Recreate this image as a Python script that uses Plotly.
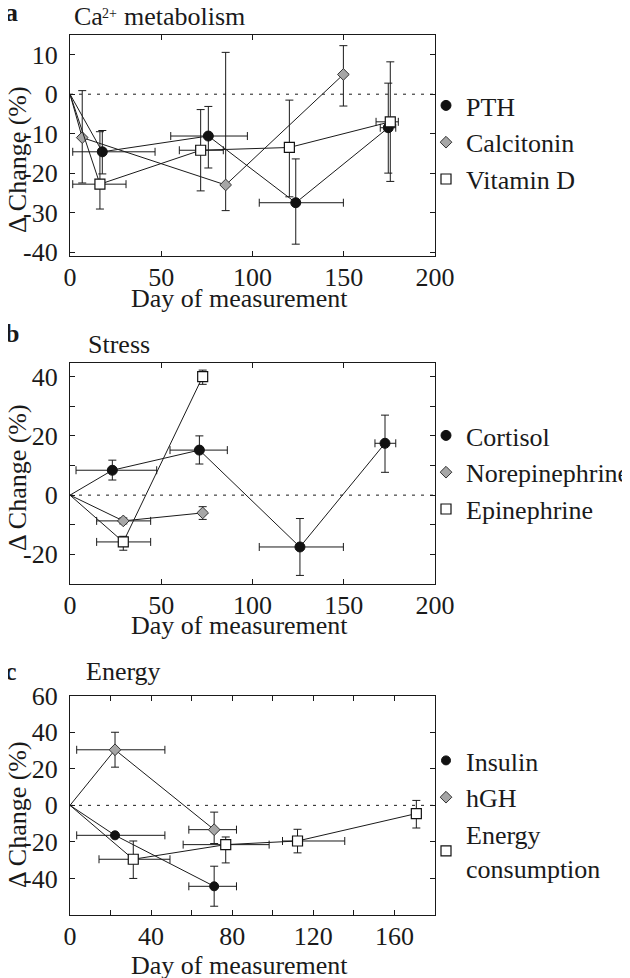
import plotly.graph_objects as go
from plotly.subplots import make_subplots

FONT = "Liberation Serif, Times New Roman, DejaVu Serif, serif"
INK = "#1a1a1a"

# ---------------- Panel a : Ca2+ metabolism ----------------
pth_x = [17.7, 75.8, 123.7, 174.4]
pth_y = [-14.6, -10.6, -27.5, -8.5]
pth_xlo = [1.5, 55.2, 103.7, 170.0]
pth_xhi = [46.6, 97.2, 149.8, 178.5]
pth_ylo = [-20.2, -18.7, -38.0, -20.0]
pth_yhi = [-9.2, -3.1, -16.4, 2.8]

calc_x = [6.7, 85.3, 149.8]
calc_y = [-11.0, -23.0, 5.0]
calc_xlo = [6.7, 85.3, 149.8]
calc_xhi = [6.7, 85.3, 149.8]
calc_ylo = [-22.5, -29.5, -3.0]
calc_yhi = [0.9, 10.6, 12.3]

vitd_x = [16.4, 71.6, 120.2, 175.5]
vitd_y = [-22.8, -14.2, -13.5, -7.0]
vitd_xlo = [1.5, 59.9, 120.2, 167.7]
vitd_xhi = [30.7, 84.0, 120.2, 179.9]
vitd_ylo = [-29.1, -24.5, -26.0, -22.1]
vitd_yhi = [-9.5, -3.9, -1.5, 8.2]

# ---------------- Panel b : Stress ----------------
cort_x = [23.2, 70.9, 126.0, 172.6]
cort_y = [8.4, 15.2, -17.5, 17.5]
cort_xlo = [3.3, 54.8, 103.7, 167.1]
cort_xhi = [47.5, 86.2, 149.8, 178.5]
cort_ylo = [5.1, 10.5, -27.1, 7.7]
cort_yhi = [11.8, 20.0, -7.9, 27.0]

nor_x = [29.2, 72.7]
nor_y = [-8.7, -6.0]
nor_xlo = [14.6, 72.7]
nor_xhi = [44.2, 72.7]
nor_ylo = [-9.7, -8.2]
nor_yhi = [-7.7, -3.9]

epi_x = [29.2, 72.7]
epi_y = [-15.8, 40.0]
epi_xlo = [14.6, 72.7]
epi_xhi = [44.2, 72.7]
epi_ylo = [-18.6, 37.4]
epi_yhi = [-13.9, 42.2]

# ---------------- Panel c : Energy ----------------
ins_x = [22.2, 71.1]
ins_y = [-16.4, -44.3]
ins_xlo = [3.3, 58.6]
ins_xhi = [46.8, 82.1]
ins_ylo = [-16.4, -55.2]
ins_yhi = [-16.4, -33.3]

hgh_x = [22.2, 71.1]
hgh_y = [30.4, -13.3]
hgh_xlo = [3.3, 58.6]
hgh_xhi = [46.8, 82.1]
hgh_ylo = [20.9, -20.9]
hgh_yhi = [40.0, -3.7]

en_x = [31.2, 76.8, 112.2, 170.8]
en_y = [-29.5, -21.5, -19.5, -4.5]
en_xlo = [14.3, 55.8, 104.8, 170.8]
en_xhi = [49.3, 98.2, 135.5, 170.8]
en_ylo = [-40.0, -31.5, -26.0, -12.4]
en_yhi = [-19.5, -17.3, -13.1, 2.7]

baseline_x = [0]
baseline_y = [0]

CIRCLE = dict(symbol="circle", size=10, color="#111111", line=dict(color="#111111", width=1))
DIAMOND = dict(symbol="diamond", size=9, color="#a6a6a6", line=dict(color="#333333", width=1))
SQUARE = dict(symbol="square", size=10, color="white", line=dict(color="#111111", width=1.2))

fig = make_subplots(rows=3, cols=1)


def add_series(row, name, legend, x, y, xlo, xhi, ylo, yhi, marker):
    fig.add_trace(go.Scatter(
        x=baseline_x + x, y=baseline_y + y, mode="lines",
        line=dict(color=INK, width=1), showlegend=False, hoverinfo="skip"),
        row=row, col=1)
    fig.add_trace(go.Scatter(
        x=x, y=y, mode="markers", name=name, legend=legend, legendgroup=name,
        marker=marker,
        error_x=dict(type="data", symmetric=False,
                     array=[h - v for h, v in zip(xhi, x)],
                     arrayminus=[v - l for l, v in zip(xlo, x)],
                     color=INK, thickness=1, width=4),
        error_y=dict(type="data", symmetric=False,
                     array=[h - v for h, v in zip(yhi, y)],
                     arrayminus=[v - l for l, v in zip(ylo, y)],
                     color=INK, thickness=1, width=4)),
        row=row, col=1)


add_series(1, "PTH", "legend", pth_x, pth_y, pth_xlo, pth_xhi, pth_ylo, pth_yhi, CIRCLE)
add_series(1, "Calcitonin", "legend", calc_x, calc_y, calc_xlo, calc_xhi, calc_ylo, calc_yhi, DIAMOND)
add_series(1, "Vitamin D", "legend", vitd_x, vitd_y, vitd_xlo, vitd_xhi, vitd_ylo, vitd_yhi, SQUARE)

add_series(2, "Cortisol", "legend2", cort_x, cort_y, cort_xlo, cort_xhi, cort_ylo, cort_yhi, CIRCLE)
add_series(2, "Norepinephrine", "legend2", nor_x, nor_y, nor_xlo, nor_xhi, nor_ylo, nor_yhi, DIAMOND)
add_series(2, "Epinephrine", "legend2", epi_x, epi_y, epi_xlo, epi_xhi, epi_ylo, epi_yhi, SQUARE)

add_series(3, "Insulin", "legend3", ins_x, ins_y, ins_xlo, ins_xhi, ins_ylo, ins_yhi, dict(CIRCLE, size=9))
add_series(3, "hGH", "legend3", hgh_x, hgh_y, hgh_xlo, hgh_xhi, hgh_ylo, hgh_yhi, DIAMOND)
add_series(3, "Energy<br>consumption", "legend3", en_x, en_y, en_xlo, en_xhi, en_ylo, en_yhi, SQUARE)

# zero reference lines
for r in (1, 2, 3):
    fig.add_hline(y=0, line=dict(color=INK, width=1, dash="3px,6px"), row=r, col=1)

# downward arrow at the lower end of the calcitonin error bar (day ~85)
fig.add_annotation(x=calc_x[1], y=calc_ylo[1], xref="x", yref="y", ax=0, ay=-12,
                   showarrow=True, arrowhead=2, arrowsize=1, arrowwidth=1,
                   arrowcolor=INK, text=" ")

# -------- layout / axes --------
# the page body has an 8px margin, so the figure sits 8px in from the corner;
# positions below are page pixels converted to paper fractions.
W, H = 622, 970
ML, MR, MT, MB = 62, 195, 27, 63
PH = H - MT - MB  # 880
PW = W - ML - MR  # 365
OFF = 8


def py(p):
    return (H - MB - (p - OFF)) / PH


def px(p):
    return (p - OFF - ML) / PW


domains = [(py(256), py(35)), (py(584), py(363.3)), (py(915), py(695.7))]

tick_font = dict(family=FONT, size=26, color=INK)
axis_common = dict(showline=True, linecolor=INK, linewidth=1.2, mirror="ticks",
                   ticks="inside", ticklen=5, tickcolor=INK, tickwidth=1,
                   showgrid=False, zeroline=False, tickfont=tick_font)

xa_ticks = [0, 50, 100, 150, 200]
ya_ticks = [-40, -30, -20, -10, 0, 10]
yb_ticks = [-20, -10, 0, 10, 20, 30, 40]
yb_text = ["-20", "", "0", "", "20", "", "40"]
xc_ticks = [0, 20, 40, 60, 80, 100, 120, 140, 160, 180]
xc_text = ["0", "", "40", "", "80", "", "120", "", "160", ""]
yc_ticks = [-60, -40, -20, 0, 20, 40, 60]
yc_text = ["", "-40", "-20", "0", "20", "40", "60"]

XSTAND = -2
YSTAND = 6

fig.update_layout(
    width=W, height=H,
    margin=dict(l=ML, r=MR, t=MT, b=MB, autoexpand=False),
    paper_bgcolor="white", plot_bgcolor="white",
    font=dict(family=FONT, size=26, color=INK),
    xaxis=dict(axis_common, domain=[0, 1], range=[0, 200], tickvals=xa_ticks,
               ticktext=[str(v) for v in xa_ticks], ticklabelstandoff=XSTAND),
    yaxis=dict(axis_common, domain=list(domains[0]), range=[-41, 15], tickvals=ya_ticks,
               ticktext=[str(v) for v in ya_ticks], ticklabelstandoff=YSTAND),
    xaxis2=dict(axis_common, domain=[0, 1], range=[0, 200], tickvals=xa_ticks,
                ticktext=[str(v) for v in xa_ticks], ticklabelstandoff=XSTAND),
    yaxis2=dict(axis_common, domain=list(domains[1]), range=[-30, 44.5], tickvals=yb_ticks,
                ticktext=yb_text, ticklabelstandoff=YSTAND),
    xaxis3=dict(axis_common, domain=[0, 1], range=[0, 180], tickvals=xc_ticks,
                ticktext=xc_text, ticklabelstandoff=XSTAND),
    yaxis3=dict(axis_common, domain=list(domains[2]), range=[-60, 60], tickvals=yc_ticks,
                ticktext=yc_text, ticklabelstandoff=YSTAND),
    showlegend=True,
)

leg_common = dict(xref="paper", yref="paper", xanchor="left", yanchor="top",
                  bgcolor="rgba(0,0,0,0)", borderwidth=0,
                  font=dict(family=FONT, size=26, color=INK),
                  tracegroupgap=3, itemwidth=30, traceorder="normal")
fig.update_layout(
    legend=dict(leg_common, x=px(426), y=py(82)),
    legend2=dict(leg_common, x=px(426), y=py(412)),
    legend3=dict(leg_common, x=px(426), y=py(737)),
)

ann_font = dict(family=FONT, size=26, color=INK)
annots = [
    ("<b>a</b>", px(3), py(12), "left", 0, 26),
    ("Ca", px(72), py(17), "left", 0, 26),
    ("2+", px(100), py(14), "left", 0, 14),
    ("metabolism", px(122), py(17), "left", 0, 26),
    ("<b>b</b>", px(3), py(334), "left", 0, 26),
    ("Stress", px(86), py(344), "left", 0, 26),
    ("<b>c</b>", px(3), py(671), "left", 0, 26),
    ("Energy", px(84), py(671), "left", 0, 26),
    ("Day of measurement", px(239), py(298), "center", 0, 26),
    ("Day of measurement", px(239), py(625), "center", 0, 26),
    ("Day of measurement", px(239), py(965), "center", 0, 26),
    ("Δ Change (%)", px(17), py(160), "center", -90, 26),
    ("Δ Change (%)", px(17), py(478), "center", -90, 26),
    ("Δ Change (%)", px(17), py(815), "center", -90, 26),
]
for text, x, y, xa, ang, size in annots:
    fig.add_annotation(text=text, x=x, y=y, xref="paper", yref="paper",
                       xanchor=xa, yanchor="middle", showarrow=False,
                       textangle=ang, font=dict(ann_font, size=size))

fig.write_html("out.html")
